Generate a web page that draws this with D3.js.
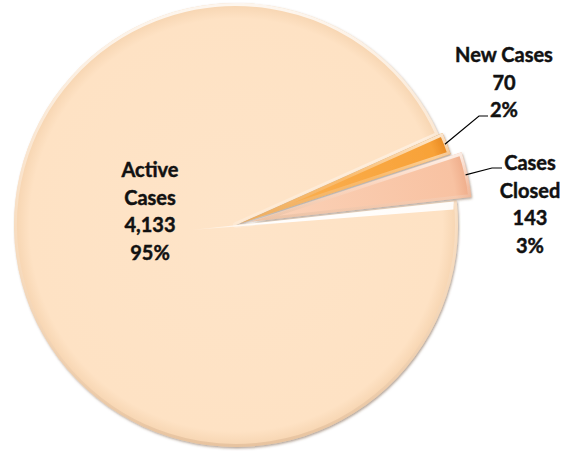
<!DOCTYPE html>
<html>
<head>
<meta charset="utf-8">
<script src="https://cdn.jsdelivr.net/npm/d3@7"></script>
<style>
  html, body { margin: 0; padding: 0; background: #fff; }
  svg { display: block; }
  .lbl { font-family: Lato, "Open Sans", sans-serif; font-weight: bold; font-size: 20px; fill: #111; stroke: #111; stroke-width: 0.45px; }
</style>
</head>
<body>
<svg id="chart"></svg>
<script>
// data
const categories = ["Active Cases", "New Cases", "Cases Closed"];
const values = [4133, 70, 143];
const valueLabels = ["4,133", "70", "143"];
const percentLabels = ["95%", "2%", "3%"];

const width = 573, height = 453;
const cx = 236, cy = 225, radius = 222;
const startDeg = 83.6;
const explode = [0, 4, 15];
const fills = ["#fee2c4", "#f8a238", "#f8c2a2"];
const lights = ["#fee4c8", "#fbb357", "#fbd3b9"];
const darks = ["#f6d4b0", "#e7871f", "#eeab88"];

// label layout: text lines, centre x, first baseline, and elbow for leader line
const labelLayout = [
    {lines: ["Active", "Cases", valueLabels[0], percentLabels[0]], x: 150, y: 177, leader: null},
    {lines: ["New Cases", valueLabels[1], percentLabels[1]], x: 504, y: 62, leader: {ex: 479, ey: 116, hx: 488}},
    {lines: ["Cases", "Closed", valueLabels[2], percentLabels[2]], x: 530, y: 170, leader: {ex: 492, ey: 168, hx: 502}}
];
const lineH = 27.6;

const svg = d3.select("#chart").attr("width", width).attr("height", height);
const defs = svg.append("defs");

const shadow = defs.append("filter").attr("id", "shadow")
    .attr("x", "-10%").attr("y", "-10%").attr("width", "120%").attr("height", "120%");
shadow.append("feDropShadow")
    .attr("dx", 1).attr("dy", 1.5).attr("stdDeviation", 1)
    .attr("flood-color", "#6b4a30").attr("flood-opacity", 0.5);

fills.forEach((c, i) => {
    const g = defs.append("radialGradient").attr("id", "fill" + i)
        .attr("gradientUnits", "userSpaceOnUse")
        .attr("cx", 0).attr("cy", 0).attr("r", radius);
    g.append("stop").attr("offset", "0%").attr("stop-color", lights[i]);
    g.append("stop").attr("offset", "93%").attr("stop-color", c);
    g.append("stop").attr("offset", "100%").attr("stop-color", darks[i]);
});

// bevel highlight: light at top, darker at bottom
const bev = defs.append("linearGradient").attr("id", "bevel")
    .attr("x1", 0).attr("y1", 0).attr("x2", 0).attr("y2", 1);
bev.append("stop").attr("offset", "0%").attr("stop-color", "#fff").attr("stop-opacity", 0.8);
bev.append("stop").attr("offset", "50%").attr("stop-color", "#fff").attr("stop-opacity", 0.2);
bev.append("stop").attr("offset", "100%").attr("stop-color", "#c49a75").attr("stop-opacity", 0.3);

const pie = d3.pie().sort(null)
    .startAngle(startDeg * Math.PI / 180)
    .endAngle(startDeg * Math.PI / 180 + 2 * Math.PI);
const arcs = pie(values);
const arc = d3.arc().innerRadius(0).outerRadius(radius);

const offset = (d, i) => {
    const a = (d.startAngle + d.endAngle) / 2;
    return [explode[i] * Math.sin(a), -explode[i] * Math.cos(a)];
};

const slices = svg.append("g").attr("transform", `translate(${cx},${cy})`)
    .selectAll("g.slice")
    .data(arcs)
    .join("g")
    .attr("class", "slice")
    .attr("transform", (d, i) => `translate(${offset(d, i)})`);

arcs.forEach((d, i) => {
    defs.append("clipPath").attr("id", "clip" + i)
        .append("path").attr("d", arc(d));
});

slices.append("path")
    .attr("d", arc)
    .attr("fill", (d, i) => `url(#fill${i})`)
    .attr("filter", "url(#shadow)");

slices.append("path")
    .attr("d", arc)
    .attr("fill", "none")
    .attr("stroke", "url(#bevel)")
    .attr("stroke-width", 6)
    .attr("stroke-linejoin", "round")
    .attr("clip-path", (d, i) => `url(#clip${i})`);

// white sheen along the lower cut edge of the big slice
const big = arcs[0];
const back = 45;
const a0 = big.startAngle;
const p = (a, r) => [cx + r * Math.sin(a), cy - r * Math.cos(a)];
const tip = p(a0 + Math.PI, back);
const rim = p(a0, radius);
const sheen = defs.append("linearGradient").attr("id", "sheen")
    .attr("gradientUnits", "userSpaceOnUse")
    .attr("x1", tip[0]).attr("y1", tip[1]).attr("x2", rim[0]).attr("y2", rim[1]);
sheen.append("stop").attr("offset", "0%").attr("stop-color", "#fff").attr("stop-opacity", 0.2);
sheen.append("stop").attr("offset", "25%").attr("stop-color", "#fff").attr("stop-opacity", 0.95);
sheen.append("stop").attr("offset", "100%").attr("stop-color", "#fff").attr("stop-opacity", 0.9);
svg.append("path")
    .attr("d", d3.line()([tip, p(a0 + 0.004, radius - 3), p(a0 + 0.04, radius - 4)]))
    .attr("fill", "url(#sheen)");

// leader lines
const labelGroup = svg.append("g");
arcs.forEach((d, i) => {
    const L = labelLayout[i].leader;
    if (!L) return;
    const a = (d.startAngle + d.endAngle) / 2;
    const o = offset(d, i);
    const sx = cx + o[0] + (radius - 2) * Math.sin(a);
    const sy = cy + o[1] - (radius - 2) * Math.cos(a);
    labelGroup.append("path")
        .attr("d", d3.line()([[sx, sy], [L.ex, L.ey], [L.hx, L.ey]]))
        .attr("fill", "none").attr("stroke", "#000").attr("stroke-width", 1.2);
});

// labels
labelLayout.forEach(l => {
    const t = labelGroup.append("text").attr("class", "lbl").attr("text-anchor", "middle");
    l.lines.forEach((s, k) => {
        t.append("tspan").attr("x", l.x).attr("y", l.y + k * lineH).text(s);
    });
});
</script>
</body>
</html>
